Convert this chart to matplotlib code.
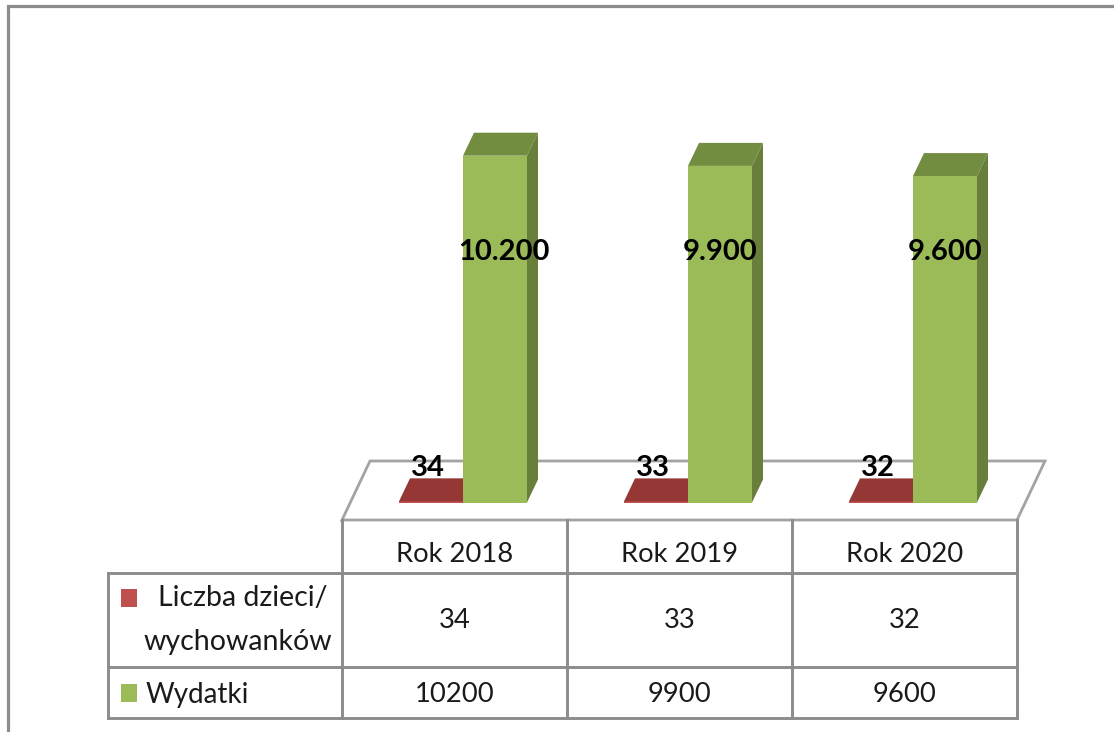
import matplotlib
matplotlib.use("Agg")
import matplotlib.pyplot as plt
from matplotlib.patches import Polygon, Rectangle
from matplotlib.transforms import blended_transform_factory

plt.rcParams["font.family"] = ["Lato", "DejaVu Sans"]

years = ["Rok 2018", "Rok 2019", "Rok 2020"]
children = [34, 33, 32]
spending = [10200, 9900, 9600]
spending_labels = ["10.200", "9.900", "9.600"]
row_names = ["Liczba dzieci/\nwychowanków", "Wydatki"]

W, H = 1114, 732
LINE = "#8c8c8c"
FLOOR_LINE = "#a3a3a3"
RED, RED_TOP = "#c0504d", "#953735"
GREEN, GREEN_TOP, GREEN_SIDE = "#9bbb59", "#728c40", "#677f3b"
TEXT = "#1a1a1a"

PX_PER_VALUE = 0.034   # plot height in pixels for one unit of value
CAT_W = 225            # pixels per category
DEPTH_X, DEPTH_Y = 11, 23

fig = plt.figure(figsize=(W / 100, H / 100), dpi=100, facecolor="white")

# page layer in pixel coordinates: frame, floor and table
page = fig.add_axes([0, 0, 1, 1])
page.set_xlim(0, W)
page.set_ylim(H, 0)
page.axis("off")

page.plot([8, 8, W], [H, 6, 6], color=LINE, lw=2.3, solid_joinstyle="miter")
page.add_patch(Polygon([(342, 520), (370, 461), (1045, 461), (1017, 520)], closed=True,
                       facecolor="white", edgecolor=FLOOR_LINE, lw=2.0))

col_x = [342, 567, 792, 1017]
for x in col_x:
    page.plot([x, x], [520, 718], color=LINE, lw=2.1)
page.plot([108, 108], [573, 718], color=LINE, lw=2.1)
for y in [573, 667, 718]:
    page.plot([108, 1017], [y, y], color=LINE, lw=2.1)

# bars, drawn on a value scale sharing the floor baseline
base_px = 502.5
ax = fig.add_axes([342 / W, (H - base_px) / H, 675 / W, base_px / H])
ax.set_xlim(0, len(years))
ax.set_ylim(0, base_px / PX_PER_VALUE)
ax.axis("off")
ax.patch.set_alpha(0)

dx = DEPTH_X / CAT_W
dy = DEPTH_Y / PX_PER_VALUE
bar_w = 64 / CAT_W
label_tr = blended_transform_factory(ax.transData, page.transData)

for i, (n, v) in enumerate(zip(children, spending)):
    red_x = i + 57 / CAT_W
    green_x = i + 121 / CAT_W

    ax.add_patch(Rectangle((red_x, 0), bar_w, n, facecolor=RED, lw=0, clip_on=False))
    ax.add_patch(Polygon([(red_x, n), (red_x + dx, n + dy), (red_x + bar_w + dx, n + dy), (red_x + bar_w, n)],
                         closed=True, facecolor=RED_TOP, lw=0, clip_on=False))

    ax.add_patch(Polygon([(green_x + bar_w, 0), (green_x + bar_w + dx, dy), (green_x + bar_w + dx, v + dy),
                          (green_x + bar_w, v)], closed=True, facecolor=GREEN_SIDE, lw=0, clip_on=False))
    ax.add_patch(Polygon([(green_x, v), (green_x + dx, v + dy), (green_x + bar_w + dx, v + dy), (green_x + bar_w, v)],
                         closed=True, facecolor=GREEN_TOP, lw=0, clip_on=False))
    ax.add_patch(Rectangle((green_x, 0), bar_w, v, facecolor=GREEN, lw=0, clip_on=False))

    ax.text(red_x + bar_w * 0.45, 468, str(n), transform=label_tr, ha="center", va="center",
            fontsize=21, fontweight="bold", color="black")
    ax.text(green_x - 5 / CAT_W, 252, spending_labels[i], transform=label_tr, ha="left", va="center",
            fontsize=21, fontweight="bold", color="black")

# table text
for i, year in enumerate(years):
    cx = (col_x[i] + col_x[i + 1]) / 2
    page.text(cx, 554, year, ha="center", va="center", fontsize=19.7, color=TEXT)
    page.text(cx, 621, str(children[i]), ha="center", va="center", fontsize=19.7, color=TEXT)
    page.text(cx, 695, str(spending[i]), ha="center", va="center", fontsize=19.7, color=TEXT)

first_row, second_row = row_names[0].split("\n")
page.text(243, 598, first_row, ha="center", va="center", fontsize=20.5, color=TEXT)
page.text(238, 642, second_row, ha="center", va="center", fontsize=20.5, color=TEXT)
page.text(146, 695, row_names[1], ha="left", va="center", fontsize=20, color=TEXT)

page.add_patch(Rectangle((121, 589), 16, 18, facecolor=RED, lw=0))
page.add_patch(Rectangle((121, 684), 16, 18, facecolor=GREEN, lw=0))

fig.savefig("out.png", dpi=100)
